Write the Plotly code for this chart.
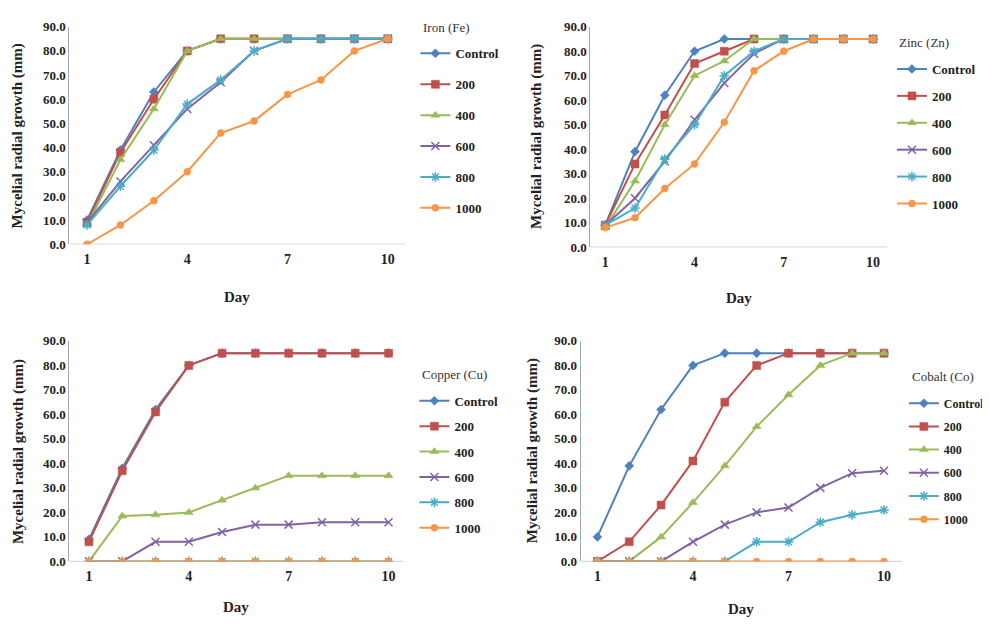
import plotly.graph_objects as go

days = [1, 2, 3, 4, 5, 6, 7, 8, 9, 10]
series_names = ["Control", "200", "400", "600", "800", "1000"]
x_ticks = [1, 4, 7, 10]
y_ticks = [0, 10, 20, 30, 40, 50, 60, 70, 80, 90]

iron_control = [10, 39, 63, 80, 85, 85, 85, 85, 85, 85]
iron_200 = [9, 38, 60, 80, 85, 85, 85, 85, 85, 85]
iron_400 = [8, 35, 56, 80, 85, 85, 85, 85, 85, 85]
iron_600 = [9, 26, 41, 56, 67, 80, 85, 85, 85, 85]
iron_800 = [8, 24, 39, 58, 68, 80, 85, 85, 85, 85]
iron_1000 = [0, 8, 18, 30, 46, 51, 62, 68, 80, 85]

zinc_control = [9, 39, 62, 80, 85, 85, 85, 85, 85, 85]
zinc_200 = [9, 34, 54, 75, 80, 85, 85, 85, 85, 85]
zinc_400 = [8, 27, 50, 70, 76, 85, 85, 85, 85, 85]
zinc_600 = [9, 20, 35, 52, 67, 79, 85, 85, 85, 85]
zinc_800 = [9, 16, 36, 50, 70, 80, 85, 85, 85, 85]
zinc_1000 = [8, 12, 24, 34, 51, 72, 80, 85, 85, 85]

copper_control = [9, 38, 62, 80, 85, 85, 85, 85, 85, 85]
copper_200 = [8, 37, 61, 80, 85, 85, 85, 85, 85, 85]
copper_400 = [0, 18.5, 19, 20, 25, 30, 35, 35, 35, 35]
copper_600 = [0, 0, 8, 8, 12, 15, 15, 16, 16, 16]
copper_800 = [0, 0, 0, 0, 0, 0, 0, 0, 0, 0]
copper_1000 = [0, 0, 0, 0, 0, 0, 0, 0, 0, 0]

cobalt_control = [10, 39, 62, 80, 85, 85, 85, 85, 85, 85]
cobalt_200 = [0, 8, 23, 41, 65, 80, 85, 85, 85, 85]
cobalt_400 = [0, 0, 10, 24, 39, 55, 68, 80, 85, 85]
cobalt_600 = [0, 0, 0, 8, 15, 20, 22, 30, 36, 37]
cobalt_800 = [0, 0, 0, 0, 0, 8, 8, 16, 19, 21]
cobalt_1000 = [0, 0, 0, 0, 0, 0, 0, 0, 0, 0]

panels = [
    ("Iron (Fe)", [iron_control, iron_200, iron_400, iron_600, iron_800, iron_1000]),
    ("Zinc (Zn)", [zinc_control, zinc_200, zinc_400, zinc_600, zinc_800, zinc_1000]),
    ("Copper (Cu)", [copper_control, copper_200, copper_400, copper_600, copper_800, copper_1000]),
    ("Cobalt (Co)", [cobalt_control, cobalt_200, cobalt_400, cobalt_600, cobalt_800, cobalt_1000]),
]

colors = ["#4F81BD", "#C0504D", "#9BBB59", "#8064A2", "#4BACC6", "#F79646"]
symbols = ["diamond", "square", "triangle-up", "x-thin", "asterisk", "circle"]
msizes = [7, 8, 8, 8, 8, 7]

# page body has an 8px default margin; figure occupies (8..990, 8..626)
OFF = 8
W, H = 982, 618


def px(p):
    return (p - OFF) / W


def py(p):
    return 1 - (p - OFF) / H


# pixel geometry (page coords): x_left, x_right, y_top, y_bottom, x range, legend x,
# legend top y, item gap, legend title (x, y), y-title x, Day y, legend font size
geom = [
    (70, 410, 20, 243, [0.47, 10.53], 420, 32, 11, (426, 21), 18, 297, 13),
    (597, 897, 20, 246, [0.50, 10.47], 902, 48, 7, (907, 36), 543, 298, 13),
    (70, 408, 342, 568, [0.41, 10.45], 419, 388, 5.5, (425, 376), 18, 615, 13),
    (587, 912, 342, 568, [0.47, 10.56], 914, 391, 4.2, (920, 379), 538, 617, 12),
]

serif = "Liberation Serif, Times New Roman, serif"
fig = go.Figure()
layout = dict(
    width=W, height=H, margin=dict(l=0, r=0, t=0, b=0),
    paper_bgcolor="white", plot_bgcolor="white",
    font=dict(family=serif, size=12, color="#222222"),
    shapes=[],
)
annotations = []
for i, (title, data) in enumerate(panels):
    xl, xr, yt, yb, xr_range, lx, ly, gap, (tx, ty), ytx, dayy, lfs = geom[i]
    ax = "" if i == 0 else str(i + 1)
    legname = "legend" if i == 0 else f"legend{i + 1}"
    for j, name in enumerate(series_names):
        mk = dict(symbol=symbols[j], size=msizes[j], color=colors[j],
                  line=dict(color=colors[j], width=1.5 if j in (3, 4) else 0.5))
        fig.add_trace(go.Scatter(
            x=days, y=data[j], name=name, mode="lines+markers",
            line=dict(color=colors[j], width=2), marker=mk,
            xaxis="x" + ax, yaxis="y" + ax, legend=legname,
            legendgroup=f"p{i}s{j}",
        ))
    layout["xaxis" + ax] = dict(
        domain=[px(xl), px(xr)], range=xr_range, anchor="y" + ax,
        tickvals=x_ticks, showgrid=False, zeroline=False,
        showline=False, ticks="",
        tickfont=dict(family=serif, size=14, color="#222", weight="bold"),
        ticklabelstandoff=5,
    )
    layout["yaxis" + ax] = dict(
        domain=[py(yb), py(yt)], range=[0, 90], anchor="x" + ax,
        tickvals=y_ticks, tickformat=".1f", showgrid=False, zeroline=False,
        showline=True, linecolor="#A6A6A6", linewidth=1, ticks="",
        tickfont=dict(family=serif, size=13, color="#222", weight="bold"),
    )
    layout["shapes"].append(dict(
        type="line", xref="x" + ax + " domain", yref="y" + ax,
        x0=0, x1=1, y0=0, y1=0, line=dict(color="#A6A6A6", width=1), layer="below",
    ))
    layout[legname] = dict(
        x=px(lx), y=py(ly), xanchor="left", yanchor="top",
        font=dict(family=serif, size=lfs, color="#222", weight="bold"),
        bgcolor="rgba(0,0,0,0)", tracegroupgap=gap, itemwidth=30,
    )
    annotations.append(dict(
        text=title, xref="paper", yref="paper", x=px(tx), y=py(ty),
        xanchor="left", yanchor="middle", showarrow=False,
        font=dict(family=serif, size=13, color="#333"),
    ))
    annotations.append(dict(
        text="<b>Day</b>", xref="paper", yref="paper",
        x=px((xl + xr) / 2), y=py(dayy), xanchor="center", yanchor="middle",
        showarrow=False, font=dict(family=serif, size=15, color="#222"),
    ))
    annotations.append(dict(
        text="<b>Mycelial radial growth (mm)</b>", xref="paper", yref="paper",
        x=px(ytx), y=py((yt + yb) / 2), textangle=-90,
        xanchor="center", yanchor="middle", showarrow=False,
        font=dict(family=serif, size=15, color="#222"),
    ))

layout["annotations"] = annotations
fig.update_layout(**layout)
fig.write_html("out.html")
